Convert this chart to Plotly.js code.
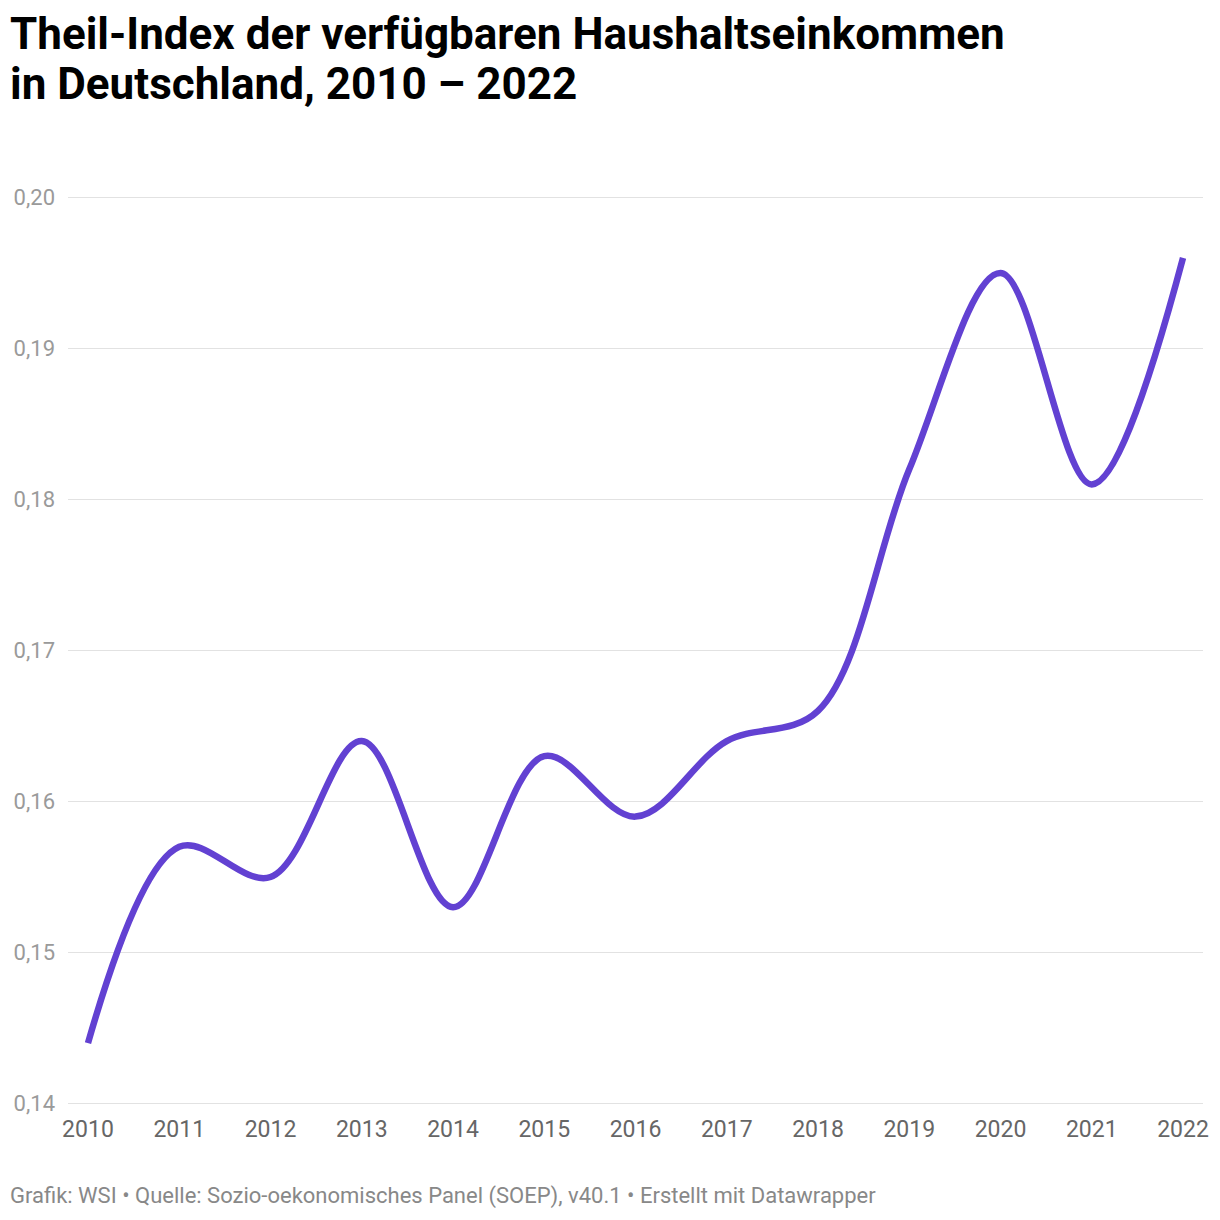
<!DOCTYPE html>
<html><head><meta charset="utf-8">
<script src="https://cdn.plot.ly/plotly-3.0.1.min.js"></script>
<style>html,body{margin:0;padding:0;background:#fff;}#chart{width:1220px;height:1220px;}</style>
</head><body><div id="chart"></div>
<script>
const years = [2010,2011,2012,2013,2014,2015,2016,2017,2018,2019,2020,2021,2022];
const theil = [0.144,0.157,0.155,0.164,0.153,0.163,0.159,0.164,0.166,0.182,0.195,0.181,0.196];
const yTicks = [0.14,0.15,0.16,0.17,0.18,0.19,0.20];
const titleLine1 = "Theil-Index der verfügbaren Haushaltseinkommen";
const titleLine2 = "in Deutschland, 2010 – 2022";
const footerText = "Grafik: WSI • Quelle: Sozio-oekonomisches Panel (SOEP), v40.1 • Erstellt mit Datawrapper";

const W = 1220, H = 1220;
const mT = 196, mB = 115, mL = 68, mR = 17;
const plotH = H - mT - mB, plotW = W - mL - mR;
function py(px){ return (H - mB - px) / plotH; }
function px(x){ return (x - mL) / plotW; }
const trace = {
  x: years, y: theil, type: 'scatter', mode: 'lines',
  line: {color: '#6241d2', width: 6.5, shape: 'spline', smoothing: 1},
  hoverinfo: 'skip'
};
const titleFont = {family: 'Roboto, sans-serif', size: 44, color: '#000', weight: 'bold'};
const layout = {
  width: W, height: H,
  margin: {l: mL, r: mR, t: mT, b: mB},
  paper_bgcolor: '#fff', plot_bgcolor: '#fff',
  separators: ',.',
  font: {family: 'Roboto, sans-serif'},
  showlegend: false,
  xaxis: {
    range: [2009.781, 2022.219], tickvals: years, ticktext: years.map(String),
    showgrid: false, zeroline: false, showline: false, ticks: '',
    tickfont: {size: 23, color: '#666'}, ticklabelstandoff: 8, fixedrange: true
  },
  yaxis: {
    range: [0.1399, 0.2001], tickvals: yTicks, tickformat: '.2f',
    showgrid: true, gridcolor: '#e2e2e2', gridwidth: 1.5, zeroline: false, showline: false,
    ticks: '', tickfont: {size: 22, color: '#9a9a9a'}, ticklabelstandoff: 12, fixedrange: true
  },
  annotations: [
    {text: titleLine1, xref: 'paper', yref: 'paper', x: px(8), y: py(34),
     xanchor: 'left', yanchor: 'middle', showarrow: false, font: titleFont},
    {text: titleLine2, xref: 'paper', yref: 'paper', x: px(8), y: py(84),
     xanchor: 'left', yanchor: 'middle', showarrow: false, font: titleFont},
    {text: footerText, xref: 'paper', yref: 'paper',
     x: px(8), y: py(1196), xanchor: 'left', yanchor: 'middle',
     showarrow: false, font: {size: 22, color: '#888'}}
  ]
};
Plotly.newPlot('chart', [trace], layout, {displayModeBar: false, staticPlot: true});
</script></body></html>
